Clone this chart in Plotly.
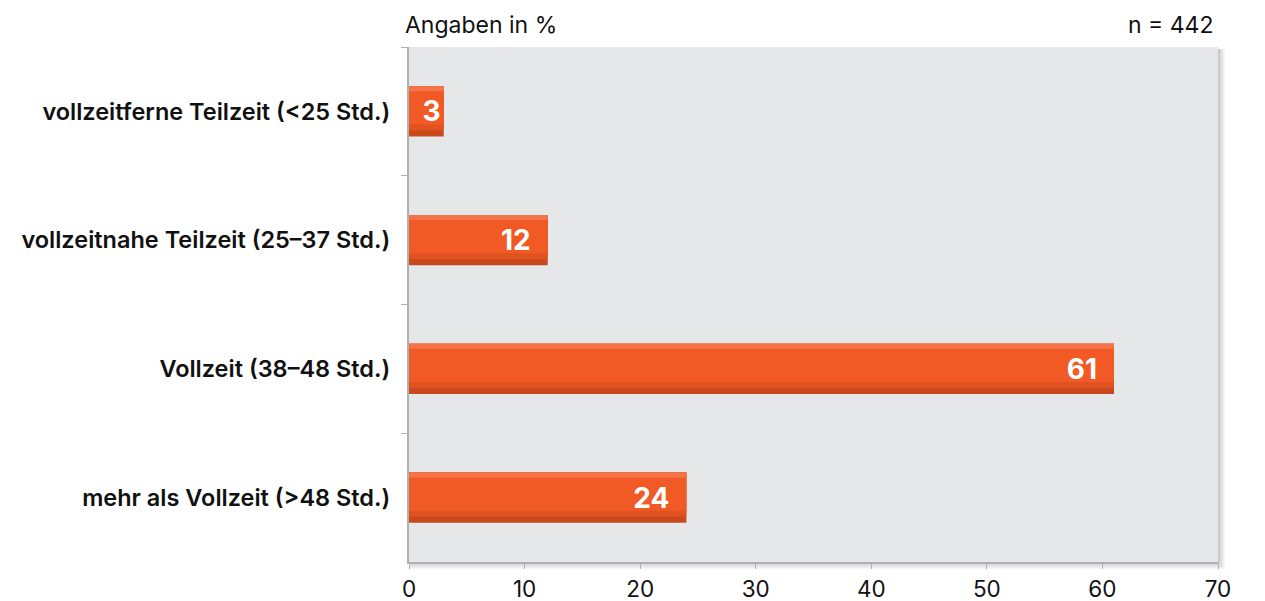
import plotly.graph_objects as go

categories = [
    "vollzeitferne Teilzeit (<25 Std.)",
    "vollzeitnahe Teilzeit (25–37 Std.)",
    "Vollzeit (38–48 Std.)",
    "mehr als Vollzeit (>48 Std.)",
]
values = [3, 12, 61, 24]
x_ticks = [0, 10, 20, 30, 40, 50, 60, 70]

FONT = "Inter"
BAR_W = 0.39
fig = go.Figure()

# dark base (bottom shading)
fig.add_trace(go.Bar(
    y=categories, x=values, orientation="h",
    width=BAR_W, offset=-BAR_W / 2,
    marker=dict(color="#C9481C", line=dict(width=0)),
    hoverinfo="skip", showlegend=False,
))
# mid transition
fig.add_trace(go.Bar(
    y=categories, x=values, orientation="h",
    width=BAR_W * 0.88, offset=-BAR_W / 2,
    marker=dict(color="#E0521F", line=dict(width=0)),
    hoverinfo="skip", showlegend=False,
))
# main body
fig.add_trace(go.Bar(
    y=categories, x=values, orientation="h",
    width=BAR_W * 0.76, offset=-BAR_W / 2,
    marker=dict(color="#F15A24", line=dict(width=0)),
    hoverinfo="skip", showlegend=False,
))
# light top highlight
fig.add_trace(go.Bar(
    y=categories, x=values, orientation="h",
    width=BAR_W * 0.1, offset=-BAR_W / 2,
    marker=dict(color="#F37448", line=dict(width=0)),
    hoverinfo="skip", showlegend=False,
))
# labels
label_text = [f"{v}\u2002" if v >= 10 else str(v) for v in values]
fig.add_trace(go.Bar(
    y=categories, x=values, orientation="h",
    width=BAR_W, offset=-BAR_W / 2,
    marker=dict(color="rgba(0,0,0,0)", line=dict(width=0)),
    text=label_text, textposition="inside",
    insidetextanchor="end", constraintext="none",
    textfont=dict(family=FONT, size=28, color="white", weight="bold"),
    hoverinfo="skip", showlegend=False,
))

shapes = []
# soft shadow right/bottom
for i, a in enumerate([0.04, 0.05, 0.06, 0.08]):
    d = 4 - i
    shapes.append(dict(
        type="rect", xref="paper", yref="paper", layer="below",
        x0=0.0, x1=1 + d * 0.0022, y0=-d * 0.0035, y1=1 - 0.004,
        fillcolor=f"rgba(0,0,0,{a})", line=dict(width=0),
    ))
shapes.append(dict(
    type="rect", xref="paper", yref="paper", layer="below",
    x0=0, x1=1, y0=0, y1=1,
    fillcolor="#E6E7E8", line=dict(width=0),
))

fig.update_layout(
    width=1265, height=601,
    margin=dict(l=401, r=55, t=39, b=47),
    paper_bgcolor="white", plot_bgcolor="rgba(0,0,0,0)",
    barmode="overlay",
    shapes=shapes,
    xaxis=dict(
        range=[0, 70], tickvals=x_ticks, showgrid=False, zeroline=False,
        showline=True, linecolor="#AEB0B3", linewidth=2,
        ticks="outside", ticklen=5, tickcolor="#AEB0B3", tickwidth=1,
        ticklabelstandoff=1, automargin=False,
        tickfont=dict(family=FONT, size=22.5, color="#111111"),
    ),
    yaxis=dict(
        categoryorder="array", categoryarray=categories, autorange="reversed",
        showgrid=False, zeroline=False,
        showline=True, linecolor="#AEB0B3", linewidth=2,
        ticks="outside", ticklen=6, tickcolor="#AEB0B3", tickwidth=1,
        tickson="boundaries", ticklabelstandoff=12, automargin=False,
        tickfont=dict(family=FONT, size=23.5, color="#111111", weight=600),
    ),
    annotations=[
        dict(text="Angaben in %", xref="paper", yref="paper", x=-0.008, y=1.0,
             xanchor="left", yanchor="bottom", yshift=6, showarrow=False,
             font=dict(family=FONT, size=23, color="#111111")),
        dict(text="n = 442", xref="paper", yref="paper", x=0.998, y=1.0,
             xanchor="right", yanchor="bottom", yshift=6, showarrow=False,
             font=dict(family=FONT, size=23, color="#111111")),
    ],
)

fig.write_html("out.html")
